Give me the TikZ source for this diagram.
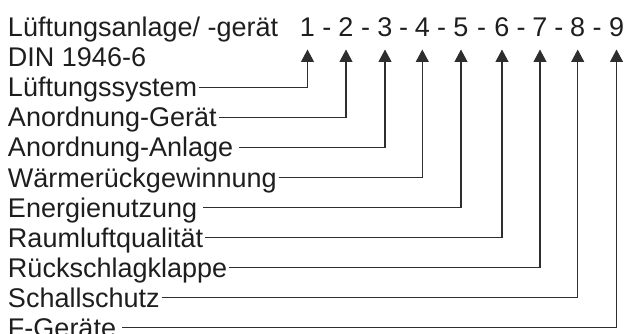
\documentclass[tikz,border=0pt]{standalone}
\usepackage{fontspec}
\setmainfont{Liberation Sans}
\usetikzlibrary{arrows.meta,calc}
\definecolor{ink}{HTML}{1E1E1E}
\definecolor{wire}{HTML}{2E2E2E}
\begin{document}
\begin{tikzpicture}[x=1pt,y=-1pt,
  txt/.style={inner sep=0pt, outer sep=0pt, text height=19pt, text depth=0pt,
    font=\fontsize{27}{30}\selectfont, text=ink},
  lbl/.style={txt, anchor=base west},
  num/.style={txt, anchor=base},
  conn/.style={draw=wire, line width=1.1pt, -{Triangle[length=12.5pt,width=13pt]},
    shorten >=12.5pt, shorten <=2pt},
  gap/.style={shorten <=6pt}]
\useasboundingbox (0,0) rectangle (626,334);
% header labels
\node[lbl] (t1) at (8,37) {Lüftungsanlage/ -gerät};
\node[lbl] (t2) at (8,67) {DIN 1946-6};
% digits
\foreach \i/\x in {1/307.5,2/346,3/385,4/422.3,5/461,6/502,7/540,8/577.7,9/616.5}
  \node[num] (d\i) at (\x,37) {\i};
\foreach \a/\b in {1/2,2/3,3/4,4/5,5/6,6/7,7/8,8/9}
  \node[num] (h\a) at ($(d\a.base)!0.5!(d\b.base)$) {-};
% row labels
\node[lbl] (l1) at (8,97)  {Lüftungssystem};
\node[lbl] (l2) at (8,127) {Anordnung-Gerät};
\node[lbl] (l3) at (8,157) {Anordnung-Anlage};
\node[lbl] (l4) at (8,187) {Wärmerückgewinnung};
\node[lbl] (l5) at (8,217) {Energienutzung};
\node[lbl] (l6) at (8,247) {Raumluftqualität};
\node[lbl] (l7) at (8,277) {Rückschlagklappe};
\node[lbl] (l8) at (8,307) {Schallschutz};
\node[lbl] (l9) at (8,337) {F-Geräte};
% connectors
\draw[conn] (l1.east) -| (d1.south);
\draw[conn] (l2.east) -| (d2.south);
\draw[conn,gap] (l3.east) -| (d3.south);
\draw[conn] (l4.east) -| (d4.south);
\draw[conn,gap] (l5.east) -| (d5.south);
\draw[conn] (l6.east) -| (d6.south);
\draw[conn] (l7.east) -| (d7.south);
\draw[conn] (l8.east) -| (d8.south);
\draw[conn,gap] (l9.east) -| (d9.south);
\end{tikzpicture}
\end{document}
